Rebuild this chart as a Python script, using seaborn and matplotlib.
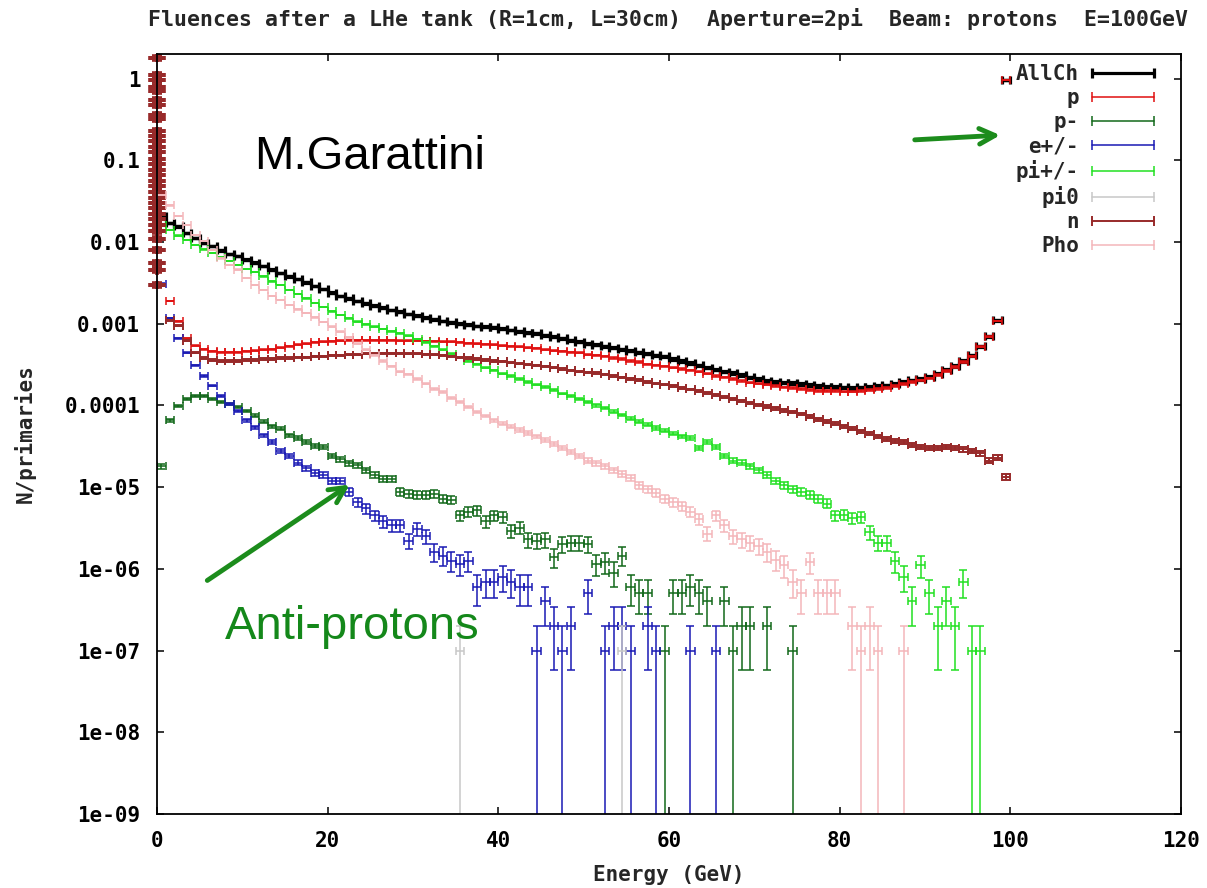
import numpy as np
import matplotlib
matplotlib.use("Agg")
import matplotlib.pyplot as plt
import seaborn as sns
from matplotlib.lines import Line2D
from matplotlib.ticker import NullLocator

nan = np.nan

# 1 GeV bins, centres at 0.5 ... 99.5
energy = np.arange(0.5, 100.0, 1.0)
N_PRIMARIES = 1e7  # statistical errors: sqrt(N)/N

allch_vals = [
    2.1e-2, 1.7e-2, 1.55e-2, 1.3e-2, 1.12e-2, 9.8e-3, 8.9e-3, 7.9e-3, 7.2e-3, 6.7e-3,
    6.1e-3, 5.6e-3, 5.1e-3, 4.6e-3, 4.2e-3, 3.8e-3, 3.5e-3, 3.2e-3, 2.9e-3, 2.65e-3,
    2.4e-3, 2.2e-3, 2.05e-3, 1.9e-3, 1.78e-3, 1.67e-3, 1.57e-3, 1.48e-3, 1.4e-3, 1.32e-3,
    1.25e-3, 1.19e-3, 1.13e-3, 1.08e-3, 1.04e-3, 1.0e-3, 9.7e-4, 9.4e-4, 9.2e-4, 9.0e-4,
    8.7e-4, 8.4e-4, 8.1e-4, 7.8e-4, 7.6e-4, 7.2e-4, 6.9e-4, 6.6e-4, 6.3e-4, 6.0e-4,
    5.7e-4, 5.5e-4, 5.3e-4, 5.1e-4, 4.9e-4, 4.7e-4, 4.5e-4, 4.3e-4, 4.1e-4, 4.0e-4,
    3.7e-4, 3.5e-4, 3.3e-4, 3.1e-4, 2.9e-4, 2.75e-4, 2.6e-4, 2.5e-4, 2.35e-4, 2.2e-4,
    2.1e-4, 2.0e-4, 1.95e-4, 1.9e-4, 1.87e-4, 1.82e-4, 1.78e-4, 1.74e-4, 1.7e-4, 1.68e-4,
    1.66e-4, 1.65e-4, 1.66e-4, 1.68e-4, 1.72e-4, 1.76e-4, 1.84e-4, 1.93e-4, 2.02e-4, 2.12e-4,
    2.25e-4, 2.45e-4, 2.75e-4, 3.05e-4, 3.5e-4, 4.1e-4, 5.3e-4, 7.0e-4, 1.1e-3, 9.5e-1,
]

p_vals = [
    nan, 1.9e-3, 1.07e-3, 6.6e-4, 5.4e-4, 4.9e-4, 4.6e-4, 4.5e-4, 4.5e-4, 4.5e-4,
    4.6e-4, 4.7e-4, 4.8e-4, 4.9e-4, 5.1e-4, 5.3e-4, 5.5e-4, 5.7e-4, 5.9e-4, 6.0e-4,
    6.1e-4, 6.2e-4, 6.3e-4, 6.3e-4, 6.3e-4, 6.3e-4, 6.3e-4, 6.3e-4, 6.2e-4, 6.2e-4,
    6.2e-4, 6.1e-4, 6.1e-4, 6.0e-4, 6.0e-4, 5.9e-4, 5.8e-4, 5.7e-4, 5.6e-4, 5.5e-4,
    5.4e-4, 5.3e-4, 5.2e-4, 5.1e-4, 5.0e-4, 4.8e-4, 4.7e-4, 4.6e-4, 4.5e-4, 4.4e-4,
    4.2e-4, 4.1e-4, 4.0e-4, 3.8e-4, 3.7e-4, 3.5e-4, 3.4e-4, 3.2e-4, 3.1e-4, 3.0e-4,
    2.9e-4, 2.8e-4, 2.7e-4, 2.6e-4, 2.45e-4, 2.3e-4, 2.2e-4, 2.1e-4, 2.0e-4, 1.9e-4,
    1.85e-4, 1.8e-4, 1.72e-4, 1.66e-4, 1.62e-4, 1.58e-4, 1.55e-4, 1.52e-4, 1.5e-4, 1.49e-4,
    1.48e-4, 1.48e-4, 1.5e-4, 1.53e-4, 1.58e-4, 1.64e-4, 1.72e-4, 1.82e-4, 1.92e-4, 2.02e-4,
    2.15e-4, 2.35e-4, 2.65e-4, 2.95e-4, 3.4e-4, 4.0e-4, 5.2e-4, 6.9e-4, 1.08e-3, 9.5e-1,
]

pbar_vals = [
    1.8e-5, 6.6e-5, 9.8e-5, 1.2e-4, 1.3e-4, 1.3e-4, 1.2e-4, 1.1e-4, 1.05e-4, 9.5e-5,
    8.5e-5, 7.5e-5, 6.3e-5, 5.6e-5, 5.2e-5, 4.3e-5, 4.0e-5, 3.6e-5, 3.2e-5, 3.1e-5,
    2.4e-5, 2.2e-5, 1.95e-5, 1.85e-5, 1.6e-5, 1.4e-5, 1.27e-5, 1.27e-5, 8.8e-6, 8.3e-6,
    8.1e-6, 8.0e-6, 8.3e-6, 7.2e-6, 7.0e-6, 4.5e-6, 5.0e-6, 5.2e-6, 3.8e-6, 4.5e-6,
    4.3e-6, 2.9e-6, 3.2e-6, 2.3e-6, 2.2e-6, 2.3e-6, 1.4e-6, 2.0e-6, 2.1e-6, 2.1e-6,
    2.0e-6, 1.15e-6, 1.2e-6, 9.0e-7, 1.45e-6, 6.0e-7, 5.0e-7, 5.0e-7, nan, 1.0e-7,
    5.0e-7, 5.0e-7, 6.0e-7, 5.0e-7, 4.0e-7, nan, 4.0e-7, 1.0e-7, 2.0e-7, 2.0e-7,
    nan, 2.0e-7, nan, nan, 1.0e-7, nan, nan, nan, nan, nan,
    nan, nan, nan, nan, nan, nan, nan, nan, nan, nan,
    nan, nan, nan, nan, nan, nan, nan, nan, nan, nan,
]

e_vals = [
    3.1e-3, 1.17e-3, 6.6e-4, 4.4e-4, 3.1e-4, 2.3e-4, 1.75e-4, 1.3e-4, 1.05e-4, 8.6e-5,
    6.6e-5, 5.4e-5, 4.3e-5, 3.6e-5, 2.8e-5, 2.4e-5, 2.0e-5, 1.7e-5, 1.5e-5, 1.4e-5,
    1.2e-5, 1.2e-5, 8.8e-6, 6.6e-6, 5.5e-6, 4.5e-6, 3.8e-6, 3.4e-6, 3.4e-6, 2.2e-6,
    3.1e-6, 2.5e-6, 1.6e-6, 1.45e-6, 1.26e-6, 1.15e-6, 1.26e-6, 6.0e-7, 7.0e-7, 7.0e-7,
    8.0e-7, 7.0e-7, 6.0e-7, 6.0e-7, 1.0e-7, 4.0e-7, 2.0e-7, 1.0e-7, 2.0e-7, nan,
    5.0e-7, nan, 1.0e-7, 2.0e-7, 2.0e-7, 1.0e-7, nan, 2.0e-7, 1.0e-7, nan,
    nan, nan, 1.0e-7, nan, nan, 1.0e-7, nan, nan, nan, nan,
    nan, nan, nan, nan, nan, nan, nan, nan, nan, nan,
    nan, nan, nan, nan, nan, nan, nan, nan, nan, nan,
    nan, nan, nan, nan, nan, nan, nan, nan, nan, nan,
]

pi_vals = [
    1.6e-2, 1.4e-2, 1.2e-2, 1.05e-2, 9.2e-3, 8.1e-3, 7.3e-3, 6.6e-3, 5.9e-3, 5.2e-3,
    4.7e-3, 4.3e-3, 3.8e-3, 3.3e-3, 3.0e-3, 2.6e-3, 2.3e-3, 2.05e-3, 1.8e-3, 1.6e-3,
    1.42e-3, 1.28e-3, 1.16e-3, 1.06e-3, 9.8e-4, 9.2e-4, 8.6e-4, 8.1e-4, 7.6e-4, 7.1e-4,
    6.5e-4, 5.9e-4, 5.3e-4, 4.8e-4, 4.3e-4, 3.9e-4, 3.5e-4, 3.2e-4, 2.9e-4, 2.7e-4,
    2.45e-4, 2.3e-4, 2.1e-4, 1.95e-4, 1.8e-4, 1.68e-4, 1.55e-4, 1.4e-4, 1.3e-4, 1.2e-4,
    1.1e-4, 1.0e-4, 9.3e-5, 8.4e-5, 7.6e-5, 6.9e-5, 6.3e-5, 5.8e-5, 5.3e-5, 4.9e-5,
    4.5e-5, 4.2e-5, 4.0e-5, 3.0e-5, 3.6e-5, 3.1e-5, 2.4e-5, 2.1e-5, 2.0e-5, 1.8e-5,
    1.6e-5, 1.4e-5, 1.2e-5, 1.05e-5, 9.5e-6, 8.8e-6, 8.0e-6, 7.2e-6, 6.3e-6, 4.5e-6,
    4.6e-6, 4.2e-6, 4.3e-6, 2.8e-6, 2.1e-6, 2.1e-6, 1.25e-6, 8.0e-7, 4.0e-7, 1.1e-6,
    5.0e-7, 2.0e-7, 4.0e-7, 2.0e-7, 7.0e-7, 1.0e-7, 1.0e-7, nan, nan, nan,
]

pi0_energy = [35.5, 54.5]
pi0_vals = [1.0e-7, 1.0e-7]

n_vals = [
    nan, 1.1e-3, 9.5e-4, 6.2e-4, 4.4e-4, 3.8e-4, 3.6e-4, 3.5e-4, 3.5e-4, 3.5e-4,
    3.6e-4, 3.6e-4, 3.7e-4, 3.7e-4, 3.8e-4, 3.8e-4, 3.9e-4, 3.9e-4, 4.0e-4, 4.0e-4,
    4.1e-4, 4.1e-4, 4.2e-4, 4.2e-4, 4.3e-4, 4.3e-4, 4.35e-4, 4.35e-4, 4.35e-4, 4.3e-4,
    4.3e-4, 4.25e-4, 4.2e-4, 4.1e-4, 4.0e-4, 3.9e-4, 3.8e-4, 3.7e-4, 3.6e-4, 3.5e-4,
    3.45e-4, 3.35e-4, 3.25e-4, 3.15e-4, 3.1e-4, 3.0e-4, 2.9e-4, 2.8e-4, 2.7e-4, 2.6e-4,
    2.55e-4, 2.5e-4, 2.4e-4, 2.3e-4, 2.2e-4, 2.1e-4, 2.05e-4, 1.95e-4, 1.85e-4, 1.8e-4,
    1.72e-4, 1.65e-4, 1.57e-4, 1.5e-4, 1.42e-4, 1.34e-4, 1.26e-4, 1.2e-4, 1.14e-4, 1.08e-4,
    1.02e-4, 9.7e-5, 9.2e-5, 8.7e-5, 8.3e-5, 7.9e-5, 7.3e-5, 6.8e-5, 6.3e-5, 6.0e-5,
    5.6e-5, 5.2e-5, 4.8e-5, 4.5e-5, 4.2e-5, 3.9e-5, 3.7e-5, 3.6e-5, 3.3e-5, 3.1e-5,
    3.0e-5, 3.0e-5, 3.1e-5, 3.0e-5, 2.9e-5, 2.8e-5, 2.6e-5, 2.1e-5, 2.3e-5, 1.35e-5,
]

# low energy neutrons (fine bins at E ~ 0) -> the dense column on the y axis
n_low_vals = [
    1.8, 1.1, 0.97, 0.8, 0.7, 0.55, 0.47, 0.36, 0.32, 0.23, 0.2, 0.17, 0.145, 0.125,
    0.105, 0.09, 0.077, 0.066, 0.056, 0.048, 0.041, 0.035, 0.03, 0.026, 0.022, 0.019,
    0.016, 0.0137, 0.011, 0.008, 0.0055, 0.0045, 0.003,
]
n_low_energy = [0.0] * len(n_low_vals)

pho_vals = [
    3.8e-2, 2.8e-2, 2.1e-2, 1.6e-2, 1.22e-2, 1.03e-2, 8.0e-3, 6.3e-3, 5.2e-3, 4.6e-3,
    3.6e-3, 3.0e-3, 2.6e-3, 2.2e-3, 1.95e-3, 1.7e-3, 1.5e-3, 1.35e-3, 1.2e-3, 1.05e-3,
    9.2e-4, 8.0e-4, 6.8e-4, 5.7e-4, 4.8e-4, 4.1e-4, 3.5e-4, 3.0e-4, 2.6e-4, 2.4e-4,
    2.1e-4, 1.85e-4, 1.6e-4, 1.45e-4, 1.25e-4, 1.1e-4, 9.5e-5, 8.3e-5, 7.4e-5, 6.6e-5,
    6.0e-5, 5.5e-5, 5.0e-5, 4.6e-5, 4.2e-5, 3.8e-5, 3.4e-5, 3.0e-5, 2.7e-5, 2.4e-5,
    2.1e-5, 1.95e-5, 1.8e-5, 1.6e-5, 1.45e-5, 1.3e-5, 1.05e-5, 9.5e-6, 8.5e-6, 7.2e-6,
    6.6e-6, 5.8e-6, 5.0e-6, 4.1e-6, 2.7e-6, 4.5e-6, 3.4e-6, 2.5e-6, 2.3e-6, 2.1e-6,
    1.9e-6, 1.6e-6, 1.3e-6, 1.1e-6, 7.0e-7, 5.0e-7, 1.2e-6, 5.0e-7, 5.0e-7, 5.0e-7,
    nan, 2.0e-7, 1.0e-7, 2.0e-7, 1.0e-7, nan, nan, 1.0e-7, nan, nan,
    nan, nan, nan, nan, nan, nan, nan, nan, nan, nan,
]

labels = ["AllCh", "p", "p-", "e+/-", "pi+/-", "pi0", "n", "Pho"]
colors = ["#000000", "#e01010", "#12681a", "#1a1ab4", "#22e022", "#c8c8c8", "#982a2a", "#f4b6ba"]
widths = [2.3, 1.1, 1.1, 1.1, 1.1, 1.1, 1.4, 1.1]

y_ticks = [1e-9, 1e-8, 1e-7, 1e-6, 1e-5, 1e-4, 1e-3, 1e-2, 1e-1, 1]
y_ticklabels = ["1e-09", "1e-08", "1e-07", "1e-06", "1e-05", "0.0001", "0.001", "0.01", "0.1", "1"]
x_ticks = [0, 20, 40, 60, 80, 100, 120]

title = "Fluences after a LHe tank (R=1cm, L=30cm)  Aperture=2pi  Beam: protons  E=100GeV"


def draw_series(ax, x, vals, color, lw, xhalf=0.5, cap=2.9, clip=True):
    x = np.asarray(x, dtype=float)
    v = np.asarray(vals, dtype=float)
    ok = np.isfinite(v)
    x, v = x[ok], v[ok]
    err = np.sqrt(v / N_PRIMARIES)
    # single counts: lower error reaches zero -> bar runs off the bottom
    lo = np.where(v - err > 0, err, v - 1e-12)
    eb = ax.errorbar(x, v, xerr=xhalf, yerr=[lo, err], fmt="none", ecolor=color,
                     elinewidth=lw, capsize=cap, capthick=lw)
    if not clip:
        for art in eb.get_children():
            art.set_clip_on(False)


sns.set_theme(style="ticks")
mono = {"family": "DejaVu Sans Mono", "weight": "bold"}
plt.rcParams["font.family"] = ["DejaVu Sans Mono", "DejaVu Sans"]

fig = plt.figure(figsize=(12.07, 8.88), dpi=100)
ax = fig.add_axes([157 / 1207, 1 - 814 / 888, 1024 / 1207, 760 / 888])
ax.set_yscale("log")

series = [allch_vals, p_vals, pbar_vals, e_vals, pi_vals, None, n_vals, pho_vals]
for lab, vals, c, lw in zip(labels, series, colors, widths):
    if lab == "pi0":
        draw_series(ax, pi0_energy, pi0_vals, c, lw)
    elif lab == "n":
        draw_series(ax, energy, vals, c, lw)
        draw_series(ax, n_low_energy, n_low_vals, c, 5.5, xhalf=0.55, cap=1.5, clip=False)
    else:
        draw_series(ax, energy, vals, c, lw)

ax.set_xlim(0, 120)
ax.set_ylim(1e-9, 2)
ax.set_xticks(x_ticks)
ax.set_xticklabels([str(t) for t in x_ticks], fontdict=mono, fontsize=15)
ax.set_yticks(y_ticks)
ax.set_yticklabels(y_ticklabels, fontdict=mono, fontsize=15)
ax.yaxis.set_minor_locator(NullLocator())
ax.tick_params(direction="in", length=5, width=1.1, top=True, right=True, pad=12, colors="black")
for s in ax.spines.values():
    s.set_color("black")
    s.set_linewidth(1.3)

ax.set_xlabel("Energy (GeV)", fontdict=mono, fontsize=15, va="center")
ax.xaxis.set_label_coords(0.5, -0.080)
ax.set_ylabel("N/primaries", fontdict=mono, fontsize=15, va="center")
ax.yaxis.set_label_coords(-0.129, 0.5)

fig.text(668.5 / 1207, 1 - 19 / 888, title, ha="center", va="center", fontsize=15.5, **mono)

handles = [Line2D([], [], color=c, lw=lw, marker="|", markersize=7, markeredgewidth=lw)
           for c, lw in zip(colors, widths)]
ax.legend(handles, labels, loc="upper right", bbox_to_anchor=(0.990, 1.0), frameon=False,
          markerfirst=False, numpoints=2, handlelength=3.6, handletextpad=0.3,
          labelspacing=0.19, borderpad=0.0,
          prop={"family": "DejaVu Sans Mono", "weight": "bold", "size": 15})

# overlay notes
fig.text(370 / 1207, 1 - 157 / 888, "M.Garattini", ha="center", va="center",
         fontsize=34, family="Liberation Sans", color="black")
fig.text(352 / 1207, 1 - 627 / 888, "Anti-protons", ha="center", va="center",
         fontsize=34, family="Liberation Sans", color="#14881a")
arrow = dict(arrowstyle="->", color="#1c8c1c", lw=3.5, mutation_scale=28)
fig.add_artist(matplotlib.patches.FancyArrowPatch(
    (205 / 1207, 1 - 582 / 888), (352 / 1207, 1 - 483 / 888),
    transform=fig.transFigure, **arrow))
fig.add_artist(matplotlib.patches.FancyArrowPatch(
    (912 / 1207, 1 - 140 / 888), (1003 / 1207, 1 - 135 / 888),
    transform=fig.transFigure, **arrow))

fig.savefig("out.png", dpi=100, facecolor="white")
